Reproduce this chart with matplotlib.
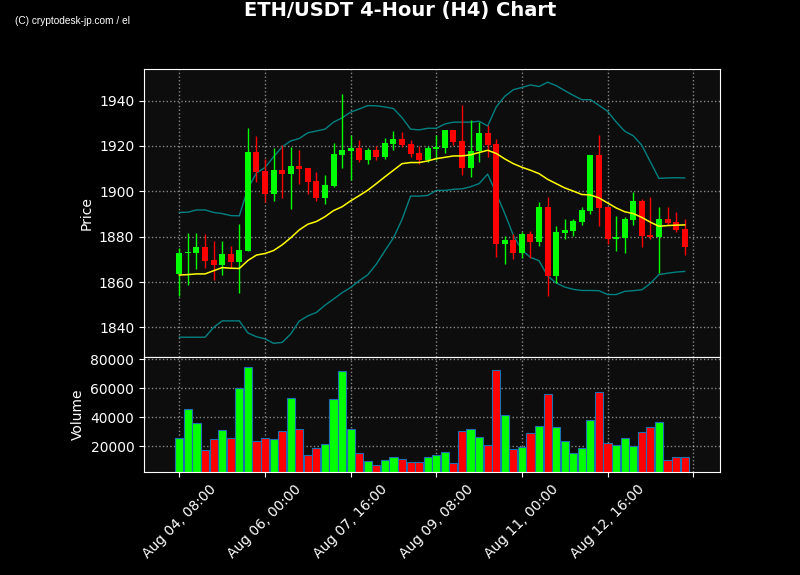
import pandas as pd
import matplotlib.pyplot as plt

# 4-hour candles, Aug 04 08:00 onwards
dates = pd.date_range('2023-08-04 08:00', periods=60, freq='4h')

opens = [1863.6, 1873.0, 1872.7, 1875.4, 1869.7, 1867.5, 1872.3, 1868.8, 1873.6, 1917.2,
         1908.9, 1898.9, 1909.3, 1907.7, 1911.1, 1910.2, 1904.5, 1897.1, 1902.3, 1915.9,
         1917.8, 1919.0, 1913.7, 1918.1, 1915.0, 1920.9, 1923.0, 1920.8, 1916.8, 1913.7,
         1918.7, 1919.1, 1926.9, 1922.1, 1910.3, 1917.7, 1925.6, 1920.8, 1876.9, 1878.5,
         1872.9, 1881.1, 1877.7, 1893.0, 1862.8, 1881.7, 1882.6, 1886.5, 1891.4, 1915.9,
         1893.0, 1878.9, 1879.5, 1887.3, 1895.7, 1880.7, 1879.9, 1887.7, 1886.4, 1883.3]
highs = [1875.2, 1881.8, 1881.8, 1881.4, 1877.9, 1877.9, 1876.1, 1885.4, 1928.1, 1924.6,
         1914.2, 1918.9, 1920.6, 1919.7, 1918.4, 1910.2, 1908.7, 1907.4, 1921.1, 1943.1,
         1924.9, 1922.8, 1918.9, 1919.9, 1923.7, 1926.8, 1926.3, 1922.8, 1920.2, 1919.9,
         1924.9, 1926.9, 1926.9, 1938.2, 1931.6, 1930.6, 1929.1, 1923.1, 1880.2, 1881.1,
         1882.0, 1882.3, 1895.5, 1897.7, 1884.9, 1887.6, 1888.0, 1893.3, 1916.2, 1925.0,
         1893.0, 1889.3, 1888.9, 1899.8, 1896.8, 1897.3, 1892.9, 1892.9, 1891.0, 1888.0]
lows = [1853.8, 1858.5, 1865.7, 1866.0, 1861.1, 1863.3, 1866.3, 1855.4, 1873.6, 1904.2,
        1895.1, 1895.9, 1897.0, 1892.0, 1903.1, 1899.0, 1895.8, 1894.2, 1902.0, 1910.5,
        1904.9, 1912.8, 1912.1, 1914.0, 1914.3, 1918.4, 1919.6, 1915.2, 1912.0, 1912.8,
        1914.0, 1916.7, 1920.5, 1907.4, 1906.1, 1912.8, 1915.2, 1871.1, 1867.9, 1870.1,
        1870.8, 1870.4, 1875.8, 1853.7, 1859.8, 1878.8, 1880.5, 1885.2, 1889.8, 1884.5,
        1877.0, 1873.5, 1873.0, 1885.2, 1875.5, 1879.1, 1863.8, 1885.1, 1882.0, 1872.0]
closes = [1873.0, 1873.4, 1875.4, 1869.2, 1867.5, 1872.3, 1868.8, 1874.1, 1917.2, 1908.6,
          1898.9, 1909.3, 1907.7, 1911.1, 1909.8, 1904.2, 1897.1, 1902.7, 1916.4, 1918.1,
          1919.0, 1913.7, 1918.1, 1915.0, 1921.2, 1923.0, 1920.5, 1916.5, 1913.7, 1919.0,
          1919.4, 1926.9, 1921.8, 1910.3, 1917.7, 1925.6, 1920.5, 1876.9, 1878.5, 1872.9,
          1881.1, 1877.7, 1893.0, 1862.8, 1882.0, 1882.9, 1886.8, 1891.7, 1915.9, 1892.7,
          1878.9, 1879.8, 1887.7, 1895.7, 1880.2, 1879.8, 1887.7, 1886.0, 1883.0, 1875.4]
volumes = [25500, 45500, 35900, 17500, 25100, 31000, 25500, 60000, 74500, 23700,
           25500, 24800, 30300, 53100, 31700, 13800, 18600, 21400, 52400, 71700,
           31700, 15200, 9700, 6900, 10300, 12400, 11300, 9000, 9000, 12400,
           13800, 15900, 8300, 30300, 31700, 26200, 20700, 72400, 41400, 17900,
           19300, 29000, 33800, 55900, 33100, 23400, 15200, 18600, 37900, 57200,
           22100, 21200, 25500, 20000, 29700, 33100, 36600, 10300, 12400, 12400]

# moving average and bollinger bands
sma = [1863.1, 1863.3, 1863.6, 1863.6, 1865.0, 1866.4, 1866.1, 1866.0, 1869.5, 1871.9,
       1872.6, 1873.9, 1876.4, 1879.5, 1883.0, 1885.5, 1886.7, 1888.8, 1891.5, 1893.2,
       1895.8, 1898.1, 1900.5, 1903.4, 1906.4, 1909.3, 1912.2, 1912.7, 1912.7, 1913.4,
       1914.4, 1915.0, 1915.6, 1915.6, 1916.1, 1917.1, 1918.1, 1916.7, 1914.3, 1912.2,
       1910.6, 1909.3, 1907.8, 1905.3, 1903.4, 1901.5, 1900.1, 1898.6, 1898.4, 1897.1,
       1894.9, 1892.7, 1891.0, 1890.2, 1888.5, 1886.4, 1884.6, 1884.9, 1885.1, 1885.2]
upper = [1890.7, 1890.8, 1891.8, 1891.8, 1890.7, 1890.2, 1889.3, 1889.2, 1901.2, 1908.1,
         1910.5, 1915.2, 1919.6, 1922.2, 1923.3, 1925.8, 1926.6, 1927.4, 1930.5, 1932.4,
         1934.9, 1936.3, 1937.8, 1937.7, 1937.2, 1936.5, 1932.5, 1927.4, 1927.1, 1927.8,
         1927.8, 1929.7, 1930.5, 1930.5, 1930.5, 1930.9, 1928.8, 1937.2, 1941.9, 1944.8,
         1945.8, 1946.9, 1946.2, 1948.1, 1946.6, 1944.4, 1942.3, 1940.4, 1940.4, 1937.9,
         1935.3, 1930.6, 1926.5, 1924.5, 1920.3, 1913.0, 1905.7, 1905.9, 1906.0, 1905.9]
lower = [1835.7, 1835.7, 1835.7, 1835.7, 1840.0, 1842.9, 1842.9, 1842.9, 1837.6, 1835.9,
         1835.0, 1833.0, 1833.4, 1837.1, 1842.8, 1845.1, 1846.6, 1849.8, 1852.5, 1855.3,
         1857.6, 1860.6, 1863.2, 1867.9, 1873.8, 1879.5, 1887.6, 1897.9, 1897.9, 1898.2,
         1900.4, 1900.4, 1900.9, 1901.1, 1902.0, 1903.4, 1907.6, 1899.1, 1890.2, 1880.6,
         1874.0, 1870.9, 1869.4, 1862.7, 1859.6, 1857.8, 1856.8, 1856.3, 1856.3, 1856.2,
         1854.5, 1854.5, 1855.9, 1856.2, 1856.6, 1859.4, 1863.3, 1863.9, 1864.4, 1864.7]

df = pd.DataFrame({'Open': opens, 'High': highs, 'Low': lows, 'Close': closes,
                   'Volume': volumes, 'SMA': sma, 'Upper': upper, 'Lower': lower},
                  index=dates)
x = range(len(df))
up = df['Close'] >= df['Open']
colors = ['#00ff00' if u else '#ff0000' for u in up]

fig = plt.figure(figsize=(8, 5.75), dpi=100, facecolor='black')
gs = fig.add_gridspec(2, 1, height_ratios=[287.4, 115.3], hspace=0,
                      left=0.18, right=0.9, top=0.8795, bottom=0.1791)
ax1 = fig.add_subplot(gs[0])
ax2 = fig.add_subplot(gs[1], sharex=ax1)

for ax in (ax1, ax2):
    ax.set_facecolor('#0d0d0d')
    ax.set_axisbelow(True)
    ax.grid(True, color='white', linestyle=':', linewidth=1, alpha=0.5)
    ax.tick_params(colors='white', labelsize=10)
    for s in ax.spines.values():
        s.set_color('white')

# candles
body_bottom = df[['Open', 'Close']].min(axis=1)
body_height = (df['Close'] - df['Open']).abs().clip(lower=0.4)
ax1.vlines(x, df['Low'], df['High'], colors=colors, linewidth=1, zorder=2)
ax1.bar(x, body_height, bottom=body_bottom, width=0.7, color=colors, zorder=3)

ax1.plot(x, df['SMA'], color='yellow', linewidth=1.1, zorder=4)
ax1.plot(x, df['Upper'], color='teal', linewidth=1, zorder=1)
ax1.plot(x, df['Lower'], color='teal', linewidth=1, zorder=1)

ax1.set_ylim(1827.1, 1953.8)
ax1.set_ylabel('Price', color='white')
ax1.tick_params(labelbottom=False)

# volume
ax2.bar(x, df['Volume'], width=0.95, color=colors, edgecolor='#1f6fb0', linewidth=0.8)
ax2.set_ylim(2300, 81800)
ax2.set_yticks([20000, 40000, 60000, 80000])
ax2.set_ylabel('Volume', color='white')

ticks = list(range(0, 61, 10))
labels = [dates[i].strftime('%b %d, %H:%M') for i in ticks[:-1]] + ['']
ax2.set_xticks(ticks)
ax2.set_xticklabels(labels, rotation=45)
ax2.set_xlim(-4.13, 63.13)

fig.suptitle('ETH/USDT 4-Hour (H4) Chart', color='white', fontsize=14,
             fontweight='bold', y=0.981, va='center')
fig.text(0.019, 0.963, '(C) cryptodesk-jp.com / el', color='white',
         fontsize=7.3, family='Liberation Sans', va='center')

plt.savefig('out.png', dpi=100, facecolor='black')
